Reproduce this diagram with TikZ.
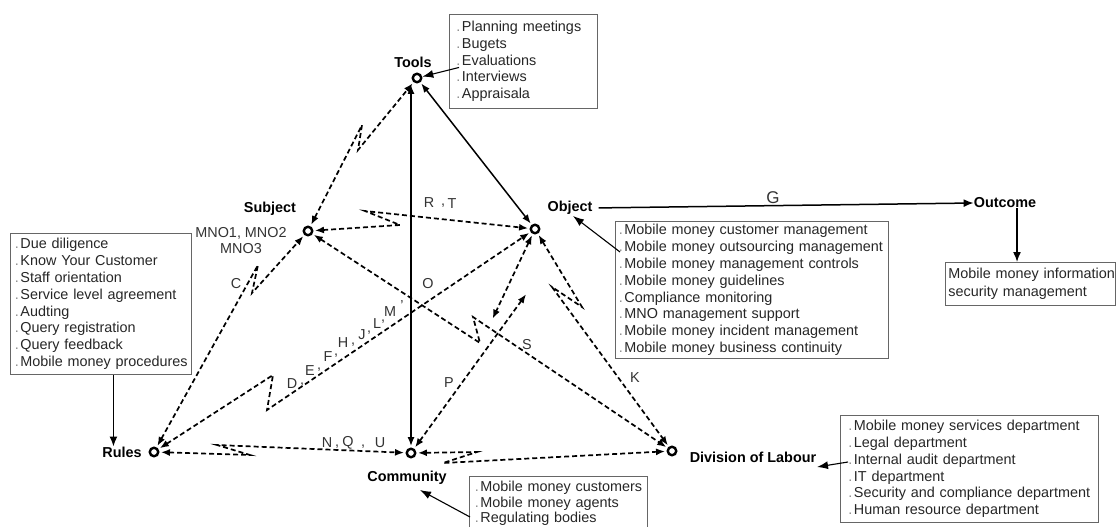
\documentclass[tikz,border=0pt]{standalone}
\usepackage{fontspec}
\setmainfont{Liberation Sans}
\usetikzlibrary{arrows.meta}
% one unbreakable list line with a faint bullet in front
\newcommand\li[1]{\mbox{{\color{black!45}.}\kern1.5pt #1}}
\begin{document}
\begin{tikzpicture}[x=1pt,y=-1pt,
  ring/.style={circle,draw=black,line width=2.4pt,fill=white,minimum size=8.5pt,inner sep=0pt},
  head/.style={font=\fontsize{14.4}{16}\selectfont\bfseries,inner sep=0pt,text=black},
  letter/.style={font=\fontsize{14.4}{16}\selectfont,inner sep=0pt,text=black!80},
  listbox/.style={draw=black!60,line width=0.9pt,align=left,anchor=north west,
    font=\fontsize{14.4}{16.8}\selectfont,text=black!85,inner ysep=0pt},
  dlink/.style={line width=1.7pt,dash pattern=on 5pt off 3pt,
    {Latex[length=9pt,width=7pt]}-{Latex[length=9pt,width=7pt]},shorten <=1.5pt,shorten >=1.5pt},
  slink/.style={line width=1.5pt,
    {Latex[length=9pt,width=7pt]}-{Latex[length=9pt,width=7pt]},shorten <=1.5pt,shorten >=1.5pt},
  sarrow/.style={line width=1.5pt,-{Latex[length=10pt,width=8pt]}},
  ptr/.style={line width=1.1pt,-{Latex[length=11pt,width=8pt]}}
]
\useasboundingbox (0,0) rectangle (1118,527);
\coordinate (cbot) at (0,527);

% activity system nodes
\node[ring] (tools) at (417,78) {};
\node[ring] (subject) at (308,231) {};
\node[ring] (object) at (535,229) {};
\node[ring] (rules) at (154,452) {};
\node[ring] (community) at (411,453) {};
\node[ring] (division) at (672,451) {};

% node titles
\node[head] (toolslbl) at (413,62) {Tools};
\node[head] (subjlbl) at (270,209) {Subject};
\node[letter,align=center] (mno) at (241,241) {MNO1, MNO2\\MNO3};
\node[head] (objlbl) at (570,208) {Object};
\node[head] (outlbl) at (1005,203) {Outcome};
\node[head] (ruleslbl) at (122,452) {Rules};
\node[head] (comlbl) at (407,478) {Community};
\node[head] (divlbl) at (753,457) {Division of Labour};

% lists
\node[listbox,inner xsep=7pt,text width=134pt,minimum height=94pt] (toolsbox) at (449,14)
  {\li{Planning meetings}\\ \li{Bugets}\\ \li{Evaluations}\\ \li{Interviews}\\ \li{Appraisala}};
\node[listbox,inner xsep=3.5pt,text width=266pt,minimum height=137pt] (objbox) at (615,221)
  {\li{Mobile money customer management}\\ \li{Mobile money outsourcing management}\\
   \li{Mobile money management controls}\\ \li{Mobile money guidelines}\\
   \li{Compliance monitoring}\\ \li{MNO management support}\\
   \li{Mobile money incident management}\\ \li{Mobile money business continuity}};
\node[listbox,inner xsep=3pt,text width=164pt,minimum height=43pt,
  font=\fontsize{14.4}{18}\selectfont] (outbox) at (945,262)
  {\mbox{Mobile money information}\\ \mbox{security management}};
\node[listbox,inner xsep=4.5pt,text width=172pt,minimum height=141pt] (rulesbox) at (10,233)
  {\li{Due diligence}\\ \li{Know Your Customer}\\ \li{Staff orientation}\\
   \li{Service level agreement}\\ \li{Audting}\\ \li{Query registration}\\
   \li{Query feedback}\\ \li{Mobile money procedures}};
\node[listbox,inner xsep=8pt,text width=242pt,minimum height=107pt] (divbox) at (840,415)
  {\li{Mobile money services department}\\ \li{Legal department}\\
   \li{Internal audit department}\\ \li{IT department}\\
   \li{Security and compliance department}\\ \li{Human resource department}};
\node[listbox,draw=none,inner xsep=5.5pt,inner ysep=5pt,text width=167pt,
  font=\fontsize{14.4}{15.5}\selectfont] (comtext) at (469,476)
  {\li{Mobile money customers}\\ \li{Mobile money agents}\\ \li{Regulating bodies}};
\draw[draw=black!60,line width=0.9pt] (comtext.north west |- cbot) -- (comtext.north west)
  -- (comtext.north east) -- (comtext.north east |- cbot);

% list pointers
\draw[ptr] ([shift={(10,6)}]toolsbox.west) -- (tools);
\draw[ptr] ([shift={(5,31)}]objbox.north west) -- ([shift={(3,8)}]objlbl.center);
\draw[ptr] ([shift={(1,41)}]comtext.north west) -- ([shift={(13,12)}]comlbl.center);
\draw[ptr] ([shift={(8,47)}]divbox.north west) -- ([shift={(64,10)}]divlbl.center);
\draw[sarrow] ([xshift=12.5pt]rulesbox.south) -- ([xshift=12.5pt]rulesbox.south |- ruleslbl.north);
\draw[sarrow] ([xshift=12pt]outlbl.south) -- ([xshift=12pt]outlbl.south |- outbox.north);

% solid relations
\draw[slink] (community.north) -- (community.north |- tools.south);
\draw[slink] (tools) -- (object);
\draw[sarrow,shorten <=6pt] (objlbl.east) -- (outlbl.west);
\node[letter,font=\fontsize{17}{17}\selectfont] (glbl) at (773,198) {G};

% tensions (dashed, with lightning breaks)
\coordinate (ts1) at (362,125); \coordinate (ts2) at (358,150);
\draw[dlink] (subject) -- (ts1) -- (ts2) -- (tools);
\coordinate (so1) at (400,225); \coordinate (so2) at (365,211);
\draw[dlink] (subject) -- (so1) -- (so2) -- (object);
\coordinate (sd1) at (480,343); \coordinate (sd2) at (473,317);
\draw[dlink] (subject) -- (sd1) -- (sd2) -- (division);
\coordinate (rc1) at (258,265); \coordinate (rc2) at (252,293);
\draw[dlink] (rules) -- (rc1) -- (rc2) -- (subject);
\coordinate (ro1) at (273,375); \coordinate (ro2) at (267,410);
\draw[dlink] (rules) -- (ro1) -- (ro2) -- (object);
\coordinate (rm1) at (250,455); \coordinate (rm2) at (217,445);
\draw[dlink] (rules) -- (rm1) -- (rm2) -- (community);
\coordinate (cd1) at (477,452); \coordinate (cd2) at (443,463);
\draw[dlink] (community) -- (cd1) -- (cd2) -- (division);
\coordinate (oc1) at (527,293); \coordinate (oc2) at (492,320);
\draw[dlink] (community) -- (oc1);
\draw[dlink] (object) -- (oc2);
\coordinate (od1) at (582,307); \coordinate (od2) at (552,287);
\draw[dlink] (object) -- (od1) -- (od2) -- (division);

% relation letters
\node[letter] (lr) at (429,203) {R};
\node[letter] (lrc) at (443,206) {,};
\node[letter] (lt) at (452,204) {T};
\node[letter] (lo) at (428,284) {O};
\node[letter] (ls) at (527,345) {S};
\node[letter] (lp) at (449,383) {P};
\node[letter] (lk) at (635,378) {K};
\node[letter] (lc) at (236,284) {C};
\node[letter] (ln) at (327,443) {N};
\node[letter] (lnc) at (337,447) {,};
\node[letter] (lq) at (348,443) {Q};
\node[letter] (lqc) at (363,447) {,};
\node[letter] (lu) at (380,443) {U};
\node[letter] (ld) at (292,384) {D};
\node[letter] (ldc) at (302,385) {,};
\node[letter] (le) at (310,371) {E};
\node[letter] (lec) at (319,370) {,};
\node[letter] (lf) at (328,357) {F};
\node[letter] (lfc) at (336,356) {,};
\node[letter] (lh) at (343,343) {H};
\node[letter] (lhc) at (353,345) {,};
\node[letter] (lj) at (362,335) {J};
\node[letter] (ljc) at (369,333) {,};
\node[letter] (ll) at (377,324) {L};
\node[letter] (llc) at (383,322) {,};
\node[letter] (lm) at (390,312) {M};
\node[letter] (lmc) at (402,306) {'};
\end{tikzpicture}
\end{document}
